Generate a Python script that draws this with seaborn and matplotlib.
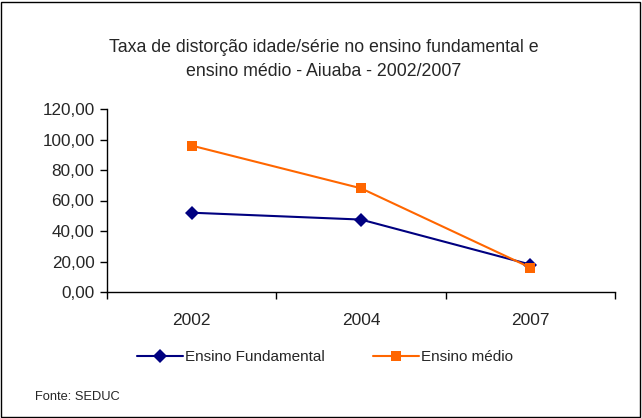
import matplotlib
matplotlib.use("Agg")
import matplotlib.pyplot as plt
import seaborn as sns
import pandas as pd
from matplotlib.patches import Rectangle
from matplotlib.lines import Line2D
from matplotlib.ticker import FixedLocator, FuncFormatter

years = ["2002", "2004", "2007"]
fundamental = [52.0, 47.5, 18.0]
medio = [96.0, 68.0, 16.0]
series_names = ["Ensino Fundamental", "Ensino médio"]
yticks = [0, 20, 40, 60, 80, 100, 120]

sns.set_style("white")
plt.rcParams["font.family"] = ["Liberation Sans", "DejaVu Sans"]

df = pd.DataFrame({
    "ano": years * 2,
    "pos": [0, 1, 2] * 2,
    "valor": fundamental + medio,
    "serie": [series_names[0]] * 3 + [series_names[1]] * 3,
})

fig = plt.figure(figsize=(6.42, 4.18), dpi=100)
ax = fig.add_axes([107 / 642, 1 - 292 / 418, (615 - 107) / 642, (292 - 109) / 418])

palette = {series_names[0]: "#000080", series_names[1]: "#FF6600"}
markers = {series_names[0]: "D", series_names[1]: "s"}
sns.lineplot(data=df, x="pos", y="valor", hue="serie", style="serie",
             palette=palette, markers=markers, dashes=False,
             markersize=7.5, linewidth=1.5, markeredgewidth=0, ax=ax, legend=False)

ax.set_xlim(-0.5, 2.5)
ax.set_ylim(0, 120)
ax.set_xlabel("")
ax.set_ylabel("")
ax.xaxis.set_major_locator(FixedLocator([-0.5, 0.5, 1.5, 2.5]))
ax.xaxis.set_major_formatter(FuncFormatter(lambda v, p: ""))
ax.xaxis.set_minor_locator(FixedLocator([0, 1, 2]))
ax.set_xticklabels(years, minor=True)
ax.tick_params(axis="x", which="major", direction="out", length=5, width=1, color="black", bottom=True)
ax.tick_params(axis="x", which="minor", length=0, labelsize=12.5, pad=15, bottom=True)
ax.set_yticks(yticks)
ax.set_yticklabels([f"{v:.2f}".replace(".", ",") for v in yticks])
ax.tick_params(axis="y", direction="out", length=5, width=1, color="black", labelsize=12.3, pad=4, left=True)
for s in ["top", "right"]:
    ax.spines[s].set_visible(False)
for s in ["left", "bottom"]:
    ax.spines[s].set_color("black")
    ax.spines[s].set_linewidth(1)
ax.grid(False)

fig.text(324 / 642, 1 - 47 / 418, "Taxa de distorção idade/série no ensino fundamental e",
         ha="center", va="center", fontsize=12.8)
fig.text(324 / 642, 1 - 72 / 418, "ensino médio - Aiuaba - 2002/2007",
         ha="center", va="center", fontsize=12.8)

handles = [Line2D([], [], color=palette[n], marker=markers[n], markersize=7,
                  markeredgewidth=0, linewidth=1.5) for n in series_names]
fig.legend(handles, series_names, loc="center", bbox_to_anchor=(325 / 642, 1 - 357 / 418),
           ncol=2, frameon=False, fontsize=11, handlelength=3.0, handletextpad=0.1,
           columnspacing=3.2)

fig.text(35 / 642, 1 - 397 / 418, "Fonte: SEDUC", ha="left", va="center", fontsize=9.3)

fig.patches.append(Rectangle((1 / 642, 1 / 418), 639 / 642, 415 / 418, transform=fig.transFigure,
                             fill=False, edgecolor="black", linewidth=1))

fig.savefig("out.png", dpi=100)
